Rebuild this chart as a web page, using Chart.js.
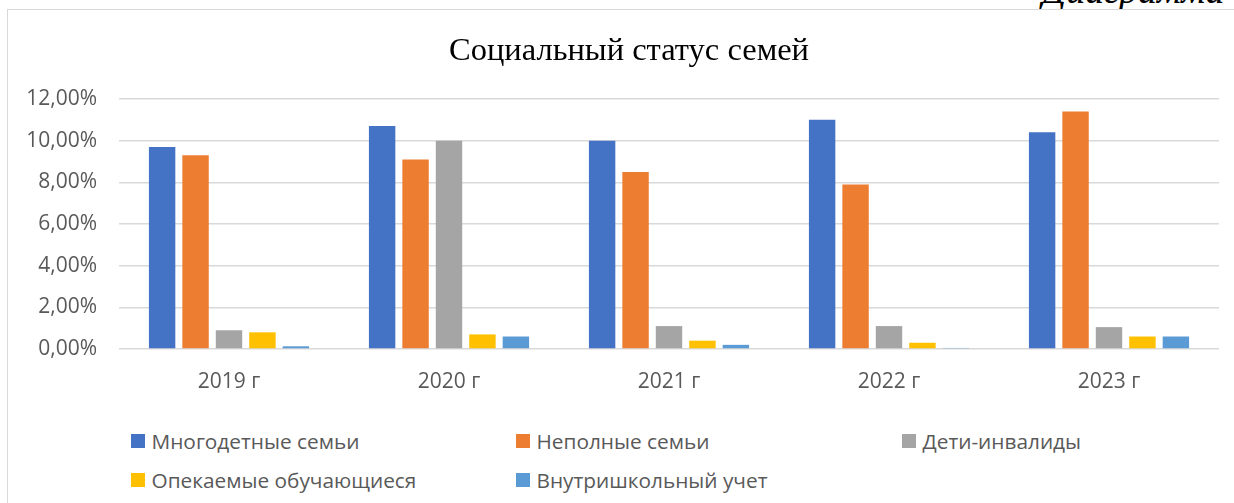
<!DOCTYPE html>
<html>
<head>
<meta charset="utf-8">
<script src="https://cdn.jsdelivr.net/npm/chart.js@4"></script>
<style>
  body { margin: 0; width: 1234px; height: 503px; overflow: hidden; background: #fff; position: relative; }
  #caption { position: absolute; left: 1042px; top: -32px; font: italic 38px "Liberation Serif", serif; color: #000; white-space: nowrap; }
  #box { position: absolute; left: 7px; top: 9px; width: 1244px; height: 520px; border: 1.5px solid #d9d9d9; box-sizing: border-box; background: #fff; }
  #wrap { position: absolute; left: 0; top: 0; width: 1242px; height: 400px; }
  #legend { position: absolute; left: 0; top: 0; font: 20.8px "Open Sans", sans-serif; color: #595959; }
  .item { position: absolute; white-space: nowrap; display: flex; align-items: center; height: 24px; }
  .item span.sw { width: 14px; height: 14px; margin-right: 7px; display: inline-block; }
</style>
</head>
<body>
<div id="caption">Диаграмма</div>
<div id="box">
  <div id="wrap"><canvas id="myChart"></canvas></div>
  <div id="legend"></div>
</div>
<script>
const years = ['2019 г', '2020 г', '2021 г', '2022 г', '2023 г']
const seriesNames = ['Многодетные семьи', 'Неполные семьи', 'Дети-инвалиды', 'Опекаемые обучающиеся', 'Внутришкольный учет']
const mnogodetnye = [9.7, 10.7, 10.0, 11.0, 10.4]
const nepolnye = [9.3, 9.1, 8.5, 7.9, 11.4]
const invalidy = [0.9, 10.0, 1.1, 1.1, 1.05]
const opekaemye = [0.8, 0.7, 0.4, 0.3, 0.6]
const vnutrishk = [0.13, 0.6, 0.2, 0.05, 0.6]
const colors = ['#4472C4', '#ED7D31', '#A5A5A5', '#FFC000', '#5B9BD5']

const values = [mnogodetnye, nepolnye, invalidy, opekaemye, vnutrishk]

const datasets = seriesNames.map((name, i) => ({
  label: name,
  data: values[i],
  backgroundColor: colors[i],
  borderWidth: 0,
  categoryPercentage: 0.76,
  barPercentage: 0.79
}))

const fmt = v => v.toFixed(2).replace('.', ',') + '%'

const ctx = document.getElementById('myChart').getContext('2d')
const chart = new Chart(ctx, {
  type: 'bar',
  data: { labels: years, datasets: datasets },
  options: {
    responsive: true,
    maintainAspectRatio: false,
    animation: false,
    layout: { padding: { left: 0, right: 0, top: 0, bottom: 8 } },
    plugins: {
      legend: { display: false },
      tooltip: { enabled: false },
      title: {
        display: true,
        text: 'Социальный статус семей',
        color: '#000',
        font: { family: 'Liberation Serif', size: 32.5, weight: 'normal' },
        padding: { top: 22, bottom: 28 }
      }
    },
    scales: {
      x: {
        grid: { display: false },
        border: { display: false },
        ticks: { color: '#595959', font: { family: 'Open Sans', size: 21 }, padding: 12 },
        afterFit: (scale) => { scale.height = 53 }
      },
      y: {
        min: 0,
        max: 12,
        ticks: { stepSize: 2, color: '#595959', font: { family: 'Open Sans', size: 21 }, padding: 22, callback: fmt },
        grid: { color: '#d9d9d9', lineWidth: 1.5, drawTicks: false },
        border: { display: false },
        afterFit: (scale) => { scale.width = 111 }
      },
      // empty axis on the right, only to keep the plot narrower than the box
      yRight: {
        position: 'right',
        grid: { display: false },
        border: { display: false },
        ticks: { display: false },
        afterFit: (scale) => { scale.width = 31 }
      }
    }
  }
})

// legend laid out in columns like the original
const legendPos = [[122.5, 439.5], [507.5, 439.5], [893.5, 439.5], [122.5, 478.5], [507.5, 478.5]]
const legendEl = document.getElementById('legend')
seriesNames.forEach((name, i) => {
  const item = document.createElement('div')
  item.className = 'item'
  item.style.left = legendPos[i][0] + 'px'
  item.style.top = (legendPos[i][1] - 12 - 9) + 'px'
  item.innerHTML = '<span class="sw" style="background:' + colors[i] + '"></span>' + name
  legendEl.appendChild(item)
})
</script>
</body>
</html>
